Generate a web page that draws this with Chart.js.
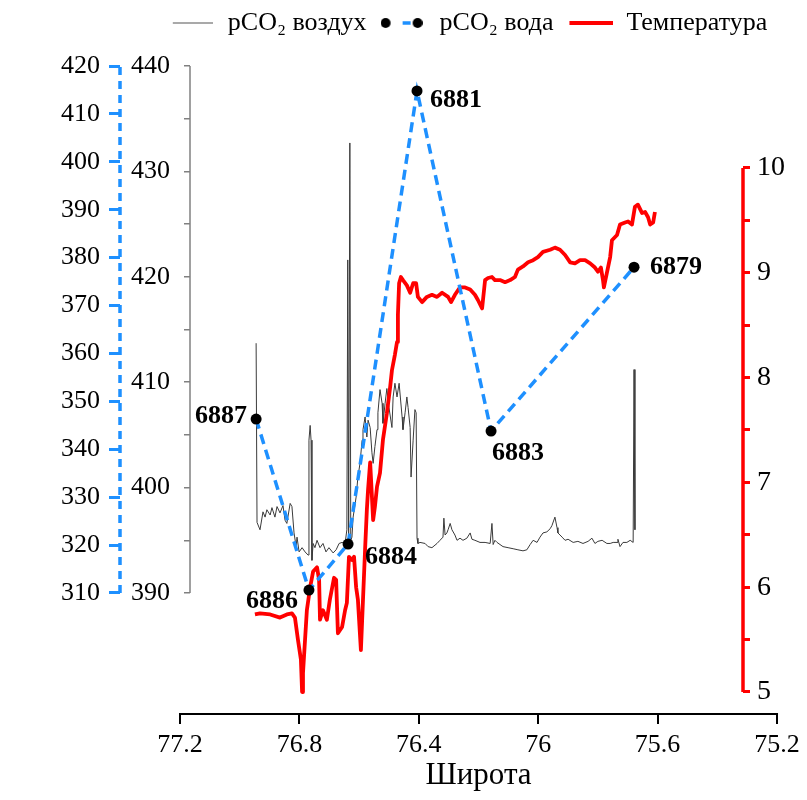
<!DOCTYPE html>
<html><head><meta charset="utf-8">
<script src="https://cdn.jsdelivr.net/npm/chart.js@4/dist/chart.umd.min.js"></script>
<style>html,body{margin:0;padding:0;background:#fff}#wrap{width:807px;height:800px;position:relative}</style>
</head><body><div id="wrap"><canvas id="c"></canvas></div>
<script>
// ---- tick labels ----
const latTicks = [77.2, 76.8, 76.4, 76, 75.6, 75.2];
const waterTicks = [310, 320, 330, 340, 350, 360, 370, 380, 390, 400, 410, 420];
const airTicks = [390, 395, 400, 405, 410, 415, 420, 425, 430, 435, 440];
const tempTicks = [5, 5.5, 6, 6.5, 7, 7.5, 8, 8.5, 9, 9.5, 10];
const xTitle = 'Широта';

// ---- series ----
const seriesNames = ['pCO₂ воздух', 'pCO₂ вода', 'Температура'];

const waterLat = [76.945, 76.768, 76.637, 76.406, 76.158, 75.679];
const waterVal = [346.3, 310.6, 320.2, 414.8, 343.8, 378.0];
const stationLabels = ['6887', '6886', '6884', '6881', '6883', '6879'];

const airLat = [76.945,76.942,76.932,76.922,76.915,76.909,76.898,76.892,76.882,76.875,
76.865,76.855,76.848,76.842,76.831,76.825,76.818,76.811,76.808,76.801,
76.791,76.781,76.771,76.768,76.764,76.761,76.758,76.754,76.748,76.741,
76.731,76.721,76.711,76.701,76.687,76.677,76.667,76.657,76.647,76.641,
76.638,76.635,76.631,76.628,76.624,76.620,76.610,76.604,76.597,76.590,
76.587,76.580,76.574,76.570,76.563,76.557,76.553,76.547,76.540,76.537,
76.530,76.523,76.520,76.513,76.507,76.500,76.490,76.486,76.480,76.473,
76.466,76.456,76.453,76.446,76.440,76.436,76.429,76.426,76.419,76.413,
76.409,76.406,76.403,76.396,76.379,76.369,76.356,76.339,76.329,76.319,
76.316,76.312,76.306,76.302,76.295,76.289,76.279,76.272,76.262,76.252,
76.239,76.228,76.222,76.212,76.195,76.178,76.161,76.155,76.151,76.145,
76.138,76.128,76.118,76.101,76.084,76.068,76.051,76.038,76.027,76.017,
76.004,75.994,75.984,75.971,75.960,75.954,75.944,75.937,75.934,75.920,
75.910,75.900,75.883,75.867,75.850,75.833,75.820,75.810,75.800,75.786,
75.770,75.759,75.749,75.736,75.733,75.726,75.716,75.703,75.692,75.682,
75.679,75.676];
const airVal = [413.7,396.7,396.0,397.7,397.2,397.9,397.4,398.1,397.2,398.2,
397.6,398.3,396.9,396.6,398.5,398.2,395.7,394.4,395.3,393.9,
394.3,393.9,393.6,404.5,405.9,404.5,393.1,394.7,394.3,395.0,
394.3,394.7,393.9,394.3,393.8,394.1,394.7,394.8,394.7,396.0,
421.6,395.0,432.7,395.0,395.3,397.2,399.1,401.0,402.3,404.5,
405.5,406.7,404.8,406.4,405.7,403.3,402.3,403.9,405.5,407.1,
409.3,408.0,406.1,408.0,409.4,407.6,405.7,408.6,409.9,408.6,
409.9,406.7,405.5,407.1,408.6,407.6,405.7,401.0,404.5,407.4,
407.1,395.2,394.7,394.8,394.7,394.4,394.3,394.7,395.0,395.3,
397.1,395.5,395.7,396.0,396.6,396.0,395.5,395.0,395.2,395.0,
395.2,395.7,395.1,395.0,394.8,394.8,394.7,396.6,394.6,395.0,
394.8,394.6,394.4,394.3,394.2,394.1,394.0,394.1,394.6,395.0,
394.8,395.3,395.7,395.8,396.1,396.4,397.2,396.2,395.7,395.3,
395.0,395.1,394.8,394.9,394.7,394.9,395.2,394.7,394.9,395.0,
394.7,394.7,394.8,394.8,395.1,394.4,394.8,394.8,395.0,394.8,
411.2,396.0];

const tempLat = [76.949,76.932,76.898,76.865,76.842,76.825,76.815,76.805,76.795,76.791,
76.788,76.775,76.764,76.754,76.741,76.734,76.731,76.721,76.708,76.698,
76.684,76.677,76.671,76.657,76.647,76.641,76.634,76.624,76.617,76.610,
76.604,76.594,76.587,76.580,76.574,76.570,76.563,76.553,76.547,76.540,
76.530,76.520,76.507,76.496,76.490,76.480,76.473,76.470,76.466,76.460,
76.453,76.440,76.429,76.419,76.409,76.403,76.389,76.373,76.356,76.339,
76.322,76.302,76.292,76.279,76.262,76.245,76.228,76.212,76.202,76.188,
76.178,76.168,76.155,76.145,76.128,76.111,76.094,76.078,76.068,76.051,
76.034,76.017,76.001,75.984,75.960,75.944,75.927,75.910,75.893,75.877,
75.860,75.843,75.826,75.810,75.800,75.790,75.783,75.780,75.770,75.759,
75.753,75.736,75.726,75.709,75.699,75.686,75.676,75.666,75.652,75.642,
75.632,75.625,75.615,75.609];
const tempVal = [5.74,5.75,5.74,5.71,5.74,5.75,5.71,5.50,5.31,5.00,
5.18,5.78,6.00,6.15,6.19,6.07,5.69,5.78,5.69,5.88,
6.09,6.07,5.56,5.62,5.78,5.85,6.29,6.26,6.29,6.00,
5.88,5.40,5.88,6.36,6.74,6.93,7.19,6.64,6.77,6.96,
7.09,7.41,7.66,7.91,8.07,8.22,8.34,8.60,8.90,8.96,
8.93,8.88,8.81,8.90,8.90,8.77,8.72,8.77,8.79,8.77,
8.81,8.77,8.72,8.79,8.86,8.86,8.84,8.79,8.74,8.66,
8.93,8.95,8.96,8.93,8.93,8.91,8.93,8.96,9.03,9.06,
9.10,9.12,9.15,9.20,9.22,9.24,9.22,9.17,9.10,9.09,
9.12,9.12,9.09,9.05,9.01,9.05,8.93,8.86,9.00,9.15,
9.31,9.36,9.46,9.48,9.49,9.46,9.63,9.65,9.57,9.58,
9.53,9.46,9.48,9.58];

// ---- styling / layout ----
const FONT = '"Liberation Serif", "Times New Roman", serif';
const BLUE = '#1e90ff', RED = '#ff0000', AXGRAY = '#808080', AIR = '#3a3a3a';
const LEGEND_LEFT = 125, LEGEND_TOP = 0;
const labelPlacement = [
  {dx: -9, dy: -3, align: 'right'},
  {dx: -11, dy: 11, align: 'right'},
  {dx: 17, dy: 13, align: 'left'},
  {dx: 13, dy: 9, align: 'left'},
  {dx: 1, dy: 22, align: 'left'},
  {dx: 16, dy: 0, align: 'left'}
];

const toXY = (xs, ys) => xs.map((x, i) => ({x: x, y: ys[i]}));

function lineIcon(color, w, len, lead) {
  const c = document.createElement('canvas');
  c.width = len + lead; c.height = 10;
  const g = c.getContext('2d');
  g.strokeStyle = color; g.lineWidth = w;
  g.beginPath(); g.moveTo(lead, 5); g.lineTo(lead + len, 5); g.stroke();
  return c;
}
function waterIcon(lead) {
  const c = document.createElement('canvas');
  c.width = 42 + lead; c.height = 12;
  const g = c.getContext('2d');
  g.fillStyle = '#000';
  g.beginPath(); g.arc(lead + 5, 6, 5, 0, Math.PI * 2); g.fill();
  g.beginPath(); g.arc(lead + 37, 6, 5, 0, Math.PI * 2); g.fill();
  g.strokeStyle = BLUE; g.lineWidth = 3.5;
  g.beginPath(); g.moveTo(lead + 22, 6); g.lineTo(lead + 30, 6); g.stroke();
  return c;
}
const legendIcons = [lineIcon('#555', 1.2, 40, 6), waterIcon(0), lineIcon(RED, 4, 44, 6)];

const legendPlacePlugin = {
  id: 'legendPlace',
  afterLayout(chart) {
    if (chart.legend) {
      const h = chart.legend.height;
      chart.legend.left = LEGEND_LEFT;
      chart.legend.top = LEGEND_TOP;
      chart.legend.bottom = LEGEND_TOP + h;
    }
  }
};

const axisLinesPlugin = {
  id: 'axisLines',
  afterDraw(chart) {
    const {ctx} = chart;
    const s = chart.scales;
    function vline(scale, xpos, v0, v1, color, w, dash) {
      ctx.save();
      ctx.strokeStyle = color; ctx.lineWidth = w; ctx.setLineDash(dash || []);
      ctx.beginPath();
      ctx.moveTo(xpos, scale.getPixelForValue(v0));
      ctx.lineTo(xpos, scale.getPixelForValue(v1));
      ctx.stroke(); ctx.restore();
    }
    vline(s.yW, s.yW.right, waterTicks[0], waterTicks[waterTicks.length - 1], BLUE, 3.5, [8, 6]);
    vline(s.yA, s.yA.right, airTicks[0], airTicks[airTicks.length - 1], AXGRAY, 1.5);
    vline(s.yT, s.yT.left, tempTicks[0], tempTicks[tempTicks.length - 1], RED, 3.5);
    const x0 = s.x.getPixelForValue(latTicks[0]);
    const x1 = s.x.getPixelForValue(latTicks[latTicks.length - 1]);
    ctx.save();
    ctx.strokeStyle = '#000'; ctx.lineWidth = 2;
    ctx.beginPath();
    ctx.moveTo(x0 - 1, s.x.top);
    ctx.lineTo(x1 + 1, s.x.top);
    ctx.stroke();
    // axis title centred under the full axis line
    ctx.font = '31px ' + FONT;
    ctx.fillStyle = '#000';
    ctx.textAlign = 'center';
    ctx.textBaseline = 'middle';
    ctx.fillText(xTitle, (x0 + x1) / 2, s.x.bottom - 24);
    ctx.restore();
  }
};

const stationLabelPlugin = {
  id: 'stationLabels',
  afterDatasetsDraw(chart) {
    const meta = chart.getDatasetMeta(1);
    const {ctx} = chart;
    ctx.save();
    ctx.font = 'bold 26px ' + FONT;
    ctx.fillStyle = '#000';
    ctx.textBaseline = 'middle';
    meta.data.forEach((pt, i) => {
      const p = labelPlacement[i];
      ctx.textAlign = p.align;
      ctx.fillText(stationLabels[i], pt.x + p.dx, pt.y + p.dy);
    });
    ctx.restore();
  }
};

const setTicks = arr => (scale => { scale.ticks = arr.map(v => ({value: v})); });

new Chart(document.getElementById('c'), {
  type: 'line',
  data: {
    datasets: [
      {label: seriesNames[0], data: toXY(airLat, airVal), yAxisID: 'yA', borderColor: AIR, borderWidth: 1,
       pointRadius: 0, order: 2, tension: 0},
      {label: seriesNames[1], data: toXY(waterLat, waterVal), yAxisID: 'yW', borderColor: BLUE, borderWidth: 3.5,
       borderDash: [10, 6], pointRadius: 5.5, pointBackgroundColor: '#000', pointBorderColor: '#000',
       pointBorderWidth: 0, order: 0, tension: 0},
      {label: seriesNames[2], data: toXY(tempLat, tempVal), yAxisID: 'yT', borderColor: RED, borderWidth: 3.8,
       pointRadius: 0, order: 1, tension: 0, borderJoinStyle: 'round'}
    ]
  },
  options: {
    responsive: true, maintainAspectRatio: false, animation: false,
    layout: {padding: 0},
    plugins: {
      tooltip: {enabled: false},
      legend: {
        labels: {
          font: {family: FONT, size: 26}, color: '#000', usePointStyle: true, pointStyleWidth: 50, padding: 10,
          sort: (a, b) => a.datasetIndex - b.datasetIndex,
          generateLabels(chart) {
            const items = Chart.defaults.plugins.legend.labels.generateLabels(chart);
            items.forEach(it => { it.pointStyle = legendIcons[it.datasetIndex]; });
            return items;
          }
        }
      }
    },
    scales: {
      x: {
        type: 'linear', position: 'bottom', reverse: true, min: 75.314, max: 77.1665,
        afterBuildTicks: setTicks(latTicks),
        afterFit: s => { s.height = 86; },
        ticks: {autoSkip: false, color: '#000', font: {family: FONT, size: 26}, padding: 6, maxRotation: 0,
                callback: v => String(v)},
        grid: {drawOnChartArea: false, drawTicks: true, tickLength: 10, color: '#000', lineWidth: 2},
        border: {display: false},
        title: {display: false}
      },
      yA: {
        type: 'linear', position: 'left', weight: 0, min: 378.52, max: 440,
        afterBuildTicks: setTicks(airTicks),
        afterFit: s => { s.width = 70; s.paddingTop = 66; },
        ticks: {autoSkip: false, color: '#000', font: {family: FONT, size: 26}, padding: 14,
                callback: v => (v % 10 === 0 ? String(v) : '')},
        grid: {drawOnChartArea: false, drawTicks: true, tickLength: 6, color: AXGRAY, lineWidth: 1.5},
        border: {display: false}
      },
      yW: {
        type: 'linear', position: 'left', weight: 1, min: 284.74, max: 420,
        afterBuildTicks: setTicks(waterTicks),
        afterFit: s => { s.width = 120; },
        ticks: {autoSkip: false, color: '#000', font: {family: FONT, size: 26}, padding: 9,
                callback: v => String(v)},
        grid: {drawOnChartArea: false, drawTicks: true, tickLength: 11, color: BLUE, lineWidth: 3},
        border: {display: false}
      },
      yT: {
        type: 'linear', position: 'right', min: 4.79, max: 10.973,
        afterBuildTicks: setTicks(tempTicks),
        afterFit: s => { s.width = 64; },
        ticks: {autoSkip: false, color: '#000', font: {family: FONT, size: 28}, padding: 7,
                callback: v => (Number.isInteger(v) ? String(v) : '')},
        grid: {drawOnChartArea: false, drawTicks: true, tickLength: 7, color: RED, lineWidth: 3},
        border: {display: false}
      }
    }
  },
  plugins: [legendPlacePlugin, axisLinesPlugin, stationLabelPlugin]
});
</script>
</body></html>
